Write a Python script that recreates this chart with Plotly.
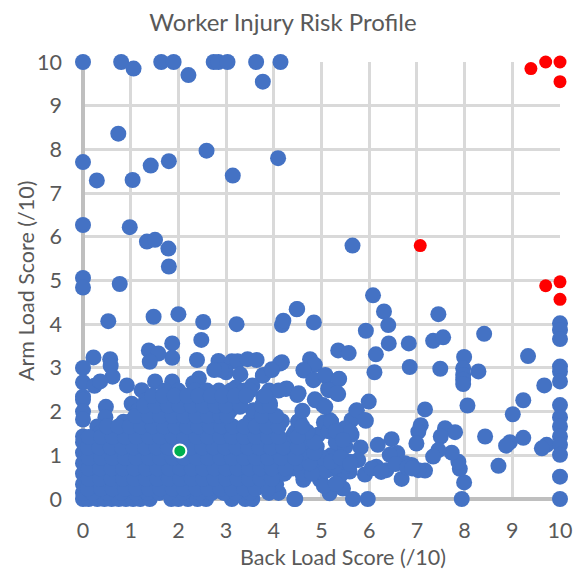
import plotly.graph_objects as go

upper_back = [0,0.8,1.06,1.64,1.9,2.21,2.74,2.84,3.03,3.63,3.77,4.14,
              0.74,0,0.29,1.04,1.42,1.8,2.59,3.14,4.09,
              0,0.98,1.34,1.51,1.79,1.8,0,0,0.77,5.65,
              0.53,1.48,2.0,2.52,3.22,4.17,4.2,4.48,2.48,1.87,1.87,1.38,1.58,1.4,2.39,
              0.22,0.57,0.58,0.62,0,0,0.24,0.36,0.92,1.23,0,0,0,0,0.48,0.47,0.3,0,1.02,0.85,
              2.84,3.12,3.24,3.45,3.64,4.17,3.96,3.77,4.25,1.51,1.87,2.43,2.31]
upper_arm = [10,10,9.85,10,10,9.7,10,10,10,10,9.55,10,
             8.36,7.71,7.29,7.3,7.63,7.73,7.97,7.4,7.8,
             6.27,6.22,5.89,5.93,5.73,5.32,5.06,4.84,4.92,5.8,
             4.07,4.17,4.23,4.05,4.0,3.98,4.08,4.34,3.64,3.56,3.23,3.4,3.33,3.14,3.18,
             3.24,3.2,3.05,2.8,3.0,2.67,2.59,2.69,2.6,2.49,2.34,2.27,2.0,1.82,2.11,1.87,1.66,1.43,2.18,1.77,
             3.16,3.15,3.15,3.2,3.18,3.13,2.97,2.82,2.52,2.69,2.69,2.76,2.65]

right_back = [6.08,6.31,6.4,4.49,4.84,5.93,6.41,6.14,6.11,6.83,6.85,7.45,7.34,7.55,7.49,
              5.35,5.57,4.76,4.86,4.63,4.83,5.08,5.37,5.14,5.35,4.49,5.99,4.86,5.03,
              8.41,7.99,7.97,7.97,7.97,7.97,8.29,8.06,9.33,9.67,9.23,9.01,
              7.17,7.08,7.03,6.99,7.59,7.8,7.5,8.43,9.23,8.95,8.87,9.72,9.62,8.71,
              10,10,10,10,10,10,10,10,10,10,10,10,10,10,
              7.94,5.97,5.66,4.45,
              7.99,7.9,7.87,7.73,7.45,7.34,7.17,7.03,6.89,6.68,6.75,6.59,6.47,6.18,
              5.82,5.77,5.91,6.15,6.36,6.43,5.93,5.73,5.63,5.49,5.63,5.38,5.17,
              4.62,5.17,5.45,4.97,5.59,5.31,5.1,4.93,4.76,4.51,4.9,5.25,5.2,4.8,4.7,5.4,
              3.0,2.9,3.3,3.55,3.2,2.75,4.95,5.05,5.3,5.5,5.6,6.05,6.25,6.55,6.8,6.9,5.05,5.2,4.7,4.55,
              5.15,5.3,5.5,4.85,4.65]
right_arm = [4.66,4.29,3.98,4.35,4.04,3.85,3.56,3.31,2.9,3.56,3.02,4.23,3.62,3.7,2.98,
             3.4,3.34,3.2,3.07,2.94,2.73,2.82,2.75,2.53,2.4,2.38,2.23,2.28,2.15,
             3.78,3.25,2.99,2.84,2.73,2.63,2.92,2.14,3.27,2.6,2.26,1.94,
             2.05,1.69,1.54,1.27,1.62,1.53,1.43,1.43,1.4,1.3,1.22,1.24,1.16,0.76,
             4.02,3.87,3.66,3.03,2.92,2.69,2.15,1.87,1.66,1.43,1.24,1.01,0.51,0,
             0,0,0,0,
             0.38,0.69,0.85,1.06,1.12,0.97,0.65,0.66,0.78,0.46,0.82,1.05,1.37,1.24,
             1.18,0.89,0.56,0.74,0.66,1.01,1.79,2.02,1.81,1.62,1.47,1.39,1.81,
             0.44,0.13,0.24,0.44,0.63,0.97,0.85,1.47,1.35,1.77,1.2,0.7,1.0,0.75,0.9,0.55,
             2.9,2.95,2.85,2.6,2.55,2.95,0.62,0.3,0.35,0.75,0.85,0.7,0.62,0.8,0.72,0.7,1.75,1.77,1.15,1.5,
             1.55,1.3,1.2,0.85,0.65]

cloud_back = [3.78,4.27,4.52,4.87,5.08,5.2,5.43,5.6,5.74,5.91,4.52,4.13,3.92,3.29,3.57,
              4.62,4.83,5.08,5.36,5.15,5.32,3.78,4.13,3.96,
              4.3,4.5,4.7,4.9,5.1,5.3,5.5,4.4,4.6,4.8,5.0,5.2,5.4,5.6,4.4,4.55,4.6,5.3,5.45]
cloud_arm = [2.34,2.53,2.42,2.26,2.11,1.77,1.46,1.54,2.03,1.81,1.77,1.77,2.19,2.11,2.03,
             2.95,2.72,2.84,2.74,2.49,2.42,2.84,3.1,2.95,
             1.0,1.3,0.95,0.7,0.65,0.75,0.85,0.7,1.1,1.25,0.95,0.85,0.95,0.8,1.45,1.75,1.55,1.55,1.35]

dense_arm_levels = [0,0.14,0.34,0.58,0.82,1.06,1.3,1.54,1.78,2.02,2.26,2.48,
                    0.24,0.46,0.7,0.94,1.18,1.42,1.66,1.9,2.14,2.36]
dense_back_rows = [
    [0,0.12,0.3,0.45,0.6,0.75,0.9,1.05,1.2,1.4,1.85,2.0,2.2,2.4,2.58,3.12,3.4,3.55,4.43],
    [0,0.2,0.5,0.8,1.1,1.35,1.6,1.8,2.1,2.45,2.7,2.95,3.2,3.5,3.9,4.1],
    [0,0.25,0.5,0.75,1,1.25,1.5,1.75,2,2.25,2.5,2.75,3,3.25,3.5,3.75,4.05],
    [0,0.24,0.48,0.72,0.96,1.2,1.44,1.68,1.92,2.16,2.4,2.64,2.88,3.12,3.36,3.6,3.84,4.1,4.22,4.6,4.8],
    [0,0.25,0.5,0.75,1,1.25,1.5,1.75,2,2.25,2.5,2.75,3,3.25,3.5,3.75,4,4.3,4.5,4.75],
    [0,0.22,0.46,0.7,0.94,1.18,1.42,1.66,1.9,2.14,2.38,2.62,2.86,3.1,3.34,3.58,3.82,4.06,4.35,4.6,4.85],
    [0,0.27,0.5,0.75,1,1.25,1.5,1.75,2,2.25,2.5,2.75,3,3.25,3.5,3.75,4,4.4,4.62,4.85],
    [0.38,0.62,0.86,1.1,1.34,1.58,1.82,2.06,2.3,2.54,2.78,3.02,3.26,3.5,3.74,3.98,4.45,4.7],
    [1.0,1.25,1.5,1.75,2,2.25,2.5,2.75,3,3.5,3.95,4.17,4.52],
    [1.15,1.4,1.65,1.9,2.15,2.4,2.65,2.9,3.08,3.57,3.9,4.6],
    [1.32,1.55,1.8,2.05,2.3,2.55,2.8,3.05,3.3,3.8],
    [1.72,2.0,2.35,2.6,2.85,3.1,3.38,3.5,3.9,4.1],
    [0.1,0.38,0.62,0.88,1.12,1.38,1.62,1.88,2.12,2.38,2.62,2.88,3.12,3.38,3.62,3.88],
    [0.12,0.36,0.6,0.84,1.08,1.32,1.56,1.8,2.04,2.28,2.52,2.76,3.0,3.24,3.48,3.72,3.96],
    [0.12,0.36,0.6,0.84,1.08,1.32,1.56,1.8,2.04,2.28,2.52,2.76,3.0,3.24,3.48,3.72,3.96,4.25],
    [0.12,0.38,0.62,0.88,1.12,1.38,1.62,1.88,2.12,2.38,2.62,2.88,3.12,3.38,3.62,3.88,4.15,4.45],
    [0.1,0.34,0.58,0.82,1.06,1.3,1.54,1.78,2.02,2.26,2.5,2.74,2.98,3.22,3.46,3.7,3.94,4.2,4.5],
    [0.12,0.38,0.62,0.88,1.12,1.38,1.62,1.88,2.12,2.38,2.62,2.88,3.12,3.38,3.62,3.88,4.1,4.5],
    [0.5,0.74,0.98,1.22,1.46,1.7,1.94,2.18,2.42,2.66,2.9,3.14,3.38,3.62,3.86,4.1,4.6],
    [1.1,1.38,1.62,1.88,2.12,2.38,2.62,2.88,3.02,3.75,4.05],
    [1.28,1.52,1.78,2.02,2.28,2.52,2.78,3.0,3.3,3.75,3.92],
    [1.45,1.68,1.92,2.18,2.42,2.68,2.92,3.18,3.42,3.82],
]
dense_back = [b for row in dense_back_rows for b in row]
dense_arm = [a for a, row in zip(dense_arm_levels, dense_back_rows) for _ in row]

red_back = [9.39,9.7,10,10,7.07,9.7,10,10]
red_arm = [9.85,10,10,9.55,5.8,4.88,4.97,4.57]
green_back = [2.03]
green_arm = [1.1]
ticks = list(range(0, 11))

title_text = "Worker Injury Risk Profile"
x_title = "Back Load Score (/10)"
y_title = "Arm Load Score (/10)"

fig = go.Figure()
fig.add_trace(go.Scatter(x=upper_back + right_back + cloud_back + dense_back,
                         y=upper_arm + right_arm + cloud_arm + dense_arm,
                         mode="markers", cliponaxis=False,
                         marker=dict(color="#4472C4", size=16, line=dict(width=0))))
fig.add_trace(go.Scatter(x=red_back, y=red_arm, mode="markers", cliponaxis=False,
                         marker=dict(color="#FF0000", size=13, line=dict(width=0))))
fig.add_trace(go.Scatter(x=green_back, y=green_arm, mode="markers", cliponaxis=False,
                         marker=dict(color="#00B050", size=13, line=dict(width=2, color="white"))))

axis = dict(range=[0, 10], tickvals=ticks, showgrid=True, gridcolor="#D9D9D9", gridwidth=3,
            zeroline=True, zerolinecolor="#BFBFBF", zerolinewidth=4, showline=False,
            automargin=False, ticks="",
            tickfont=dict(size=21.5, color="#595959", family="Lato"))
fig.update_layout(
    width=584, height=569, showlegend=False,
    margin=dict(l=83, r=24, t=62, b=70),
    paper_bgcolor="white", plot_bgcolor="white",
    font=dict(family="Lato", color="#595959"),
    title=dict(text=title_text, x=283/584, xanchor="center",
               y=1-23/569, yanchor="middle", font=dict(size=24, color="#595959", family="Lato")),
    xaxis=dict(axis, ticklabelstandoff=16),
    yaxis=dict(axis, ticklabelstandoff=20),
    annotations=[
        dict(text=x_title, xref="paper", yref="paper", x=(343-83)/477, y=-(557-499)/437,
             xanchor="center", yanchor="middle", showarrow=False,
             font=dict(size=21.5, color="#595959", family="Lato")),
        dict(text=y_title, xref="paper", yref="paper", x=-(83-26)/477, y=(499-281)/437,
             xanchor="center", yanchor="middle", showarrow=False, textangle=-90,
             font=dict(size=21.5, color="#595959", family="Lato")),
    ],
)
fig.write_html("out.html", config={"displayModeBar": False},
               post_script="document.body.style.margin='0';document.documentElement.style.overflow='hidden';")
